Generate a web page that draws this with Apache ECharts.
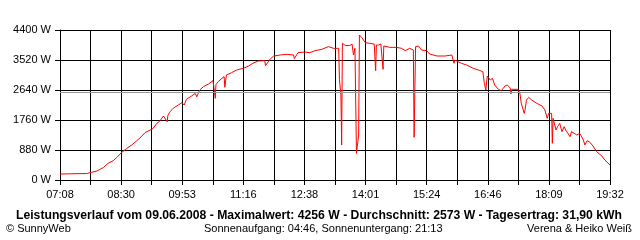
<!DOCTYPE html>
<html>
<head>
<meta charset="utf-8">
<script src="https://cdn.jsdelivr.net/npm/echarts@6/dist/echarts.min.js"></script>
<style>
html,body{margin:0;padding:0;background:#fff;}
#chart{width:640px;height:240px;}
</style>
</head>
<body>
<div id="chart"></div>
<script>
// Day start time of the x axis
const startTime = "07:08";
// Minutes after 07:08
const minutesFromStart = [
  0,36,43,50,55,59,65,72,77,83,90,97,104,110,115,122,126,131,135,140,145,146,149,153,160,165,168,171,178,183,185,189,194,201,
  196,203,207,210,211,214,219,222,223,225,232,239,248,255,261,268,277,278,284,289,298,307,316,317,322,331,338,345,354,363,370,
  372,377,378,380,381,382,386,392,395,397,399,400,401,402,404,405,408,413,419,425,427,428,431,434,437,438,440,446,455,462,467,473,478,479,481,485,489,496,500,510,521,530,533,534,543,550,559,566,
  572,574,576,578,582,585,588,593,597,602,605,609,610,611,619,622,624,628,629,631,634,638,645,652,656,659,661,665,666,667,671,673,676,679,682,684,686,690,692,694,699,703,708,710,713,716,721,726,733,737,739,744
];
// Power in W
const watts = [
  176,190,226,264,323,371,489,567,665,802,919,1027,1154,1271,1388,1467,1515,1662,1730,1877,1711,1900,2004,2102,2200,2268,2200,2366,2464,2542,2440,2640,2738,2816,
  2718,2835,2913,2396,2800,2884,2982,3031,2718,3080,3147,3227,3276,3344,3423,3491,3500,3354,3540,3637,3667,3686,3667,3560,3735,3755,3735,3794,3833,3911,3862,
  3862,3862,2953,2493,1027,4009,3945,3945,3989,3667,3862,3862,782,831,1320,4253,4185,4029,4009,3989,3207,3960,3960,3989,3246,3931,3931,3891,3891,3862,3794,3862,3813,1252,3911,3931,3813,3794,3696,3637,3637,3667,3423,3520,3423,3373,3276,3227,
  3178,2835,2640,3051,2933,2982,2787,2660,2620,2757,2787,2700,2523,2660,2660,2562,2249,1955,2050,2347,2425,2347,2249,2171,2053,1809,1955,1955,1075,1809,1467,1564,1662,1418,1564,1467,1520,1271,1420,1420,1320,1369,1173,1027,1150,1124,997,831,704,587,538,440
];
// X tick labels (every other grid line)
const timeLabels = ["07:08","08:30","09:53","11:16","12:38","14:01","15:24","16:46","18:09","19:32"];
const averageW = 2573;
const maxW = 4256;
const yTicks = [0,880,1760,2640,3520,4400];

const titleText = "Leistungsverlauf vom 09.06.2008 - Maximalwert: " + maxW + " W - Durchschnitt: " + averageW + " W - Tagesertrag: 31,90 kWh";

const pts = minutesFromStart.map((m,i)=>[m,watts[i]]).sort((a,b)=>a[0]-b[0]);

const span = 744;
const step = span/18;
const FONT = "Liberation Sans";

const chart = echarts.init(document.getElementById('chart'), null, {renderer:'canvas'});
chart.setOption({
  animation:false,
  backgroundColor:'#fff',
  grid:{left:60,right:30,top:30,bottom:60,containLabel:false},
  xAxis:{
    type:'value', min:0, max:span, interval:step,
    axisLine:{show:true,lineStyle:{color:'#000',width:1}},
    axisTick:{show:true,length:5,lineStyle:{color:'#000',width:1}},
    splitLine:{show:true,lineStyle:{color:'#000',width:1}},
    axisLabel:{
      color:'#000', fontFamily:FONT, fontSize:11, margin:9,
      formatter:function(v){
        const idx = Math.round(v/step);
        return idx%2===0 ? timeLabels[idx/2] : '';
      }
    }
  },
  yAxis:{
    type:'value', min:yTicks[0], max:yTicks[yTicks.length-1], interval:yTicks[1]-yTicks[0],
    axisLine:{show:true,lineStyle:{color:'#000',width:1}},
    axisTick:{show:true,length:5,lineStyle:{color:'#000',width:1}},
    splitLine:{show:true,lineStyle:{color:'#000',width:1}},
    axisLabel:{color:'#000',fontFamily:FONT,fontSize:11,margin:9,formatter:v=>v+' W'}
  },
  series:[{
    type:'line',
    data:pts,
    showSymbol:false,
    symbol:'none',
    lineStyle:{color:'#ff0000',width:1},
    markLine:{
      silent:true, symbol:'none', label:{show:false},
      lineStyle:{color:'#999999',width:1,type:'solid'},
      data:[{yAxis:averageW}]
    },
    z:3
  }],
  graphic:[
    {type:'text',left:16,top:210,style:{text:titleText,font:'bold 12.2px '+FONT,fill:'#000'}},
    {type:'text',left:6,top:223,style:{text:'© SunnyWeb',font:'11px '+FONT,fill:'#000'}},
    {type:'text',left:204,top:223,style:{text:'Sonnenaufgang: 04:46, Sonnenuntergang: 21:13',font:'11px '+FONT,fill:'#000'}},
    {type:'text',right:8,top:223,style:{text:'Verena & Heiko Weiß',font:'11px '+FONT,fill:'#000'}}
  ]
});
</script>
</body>
</html>
